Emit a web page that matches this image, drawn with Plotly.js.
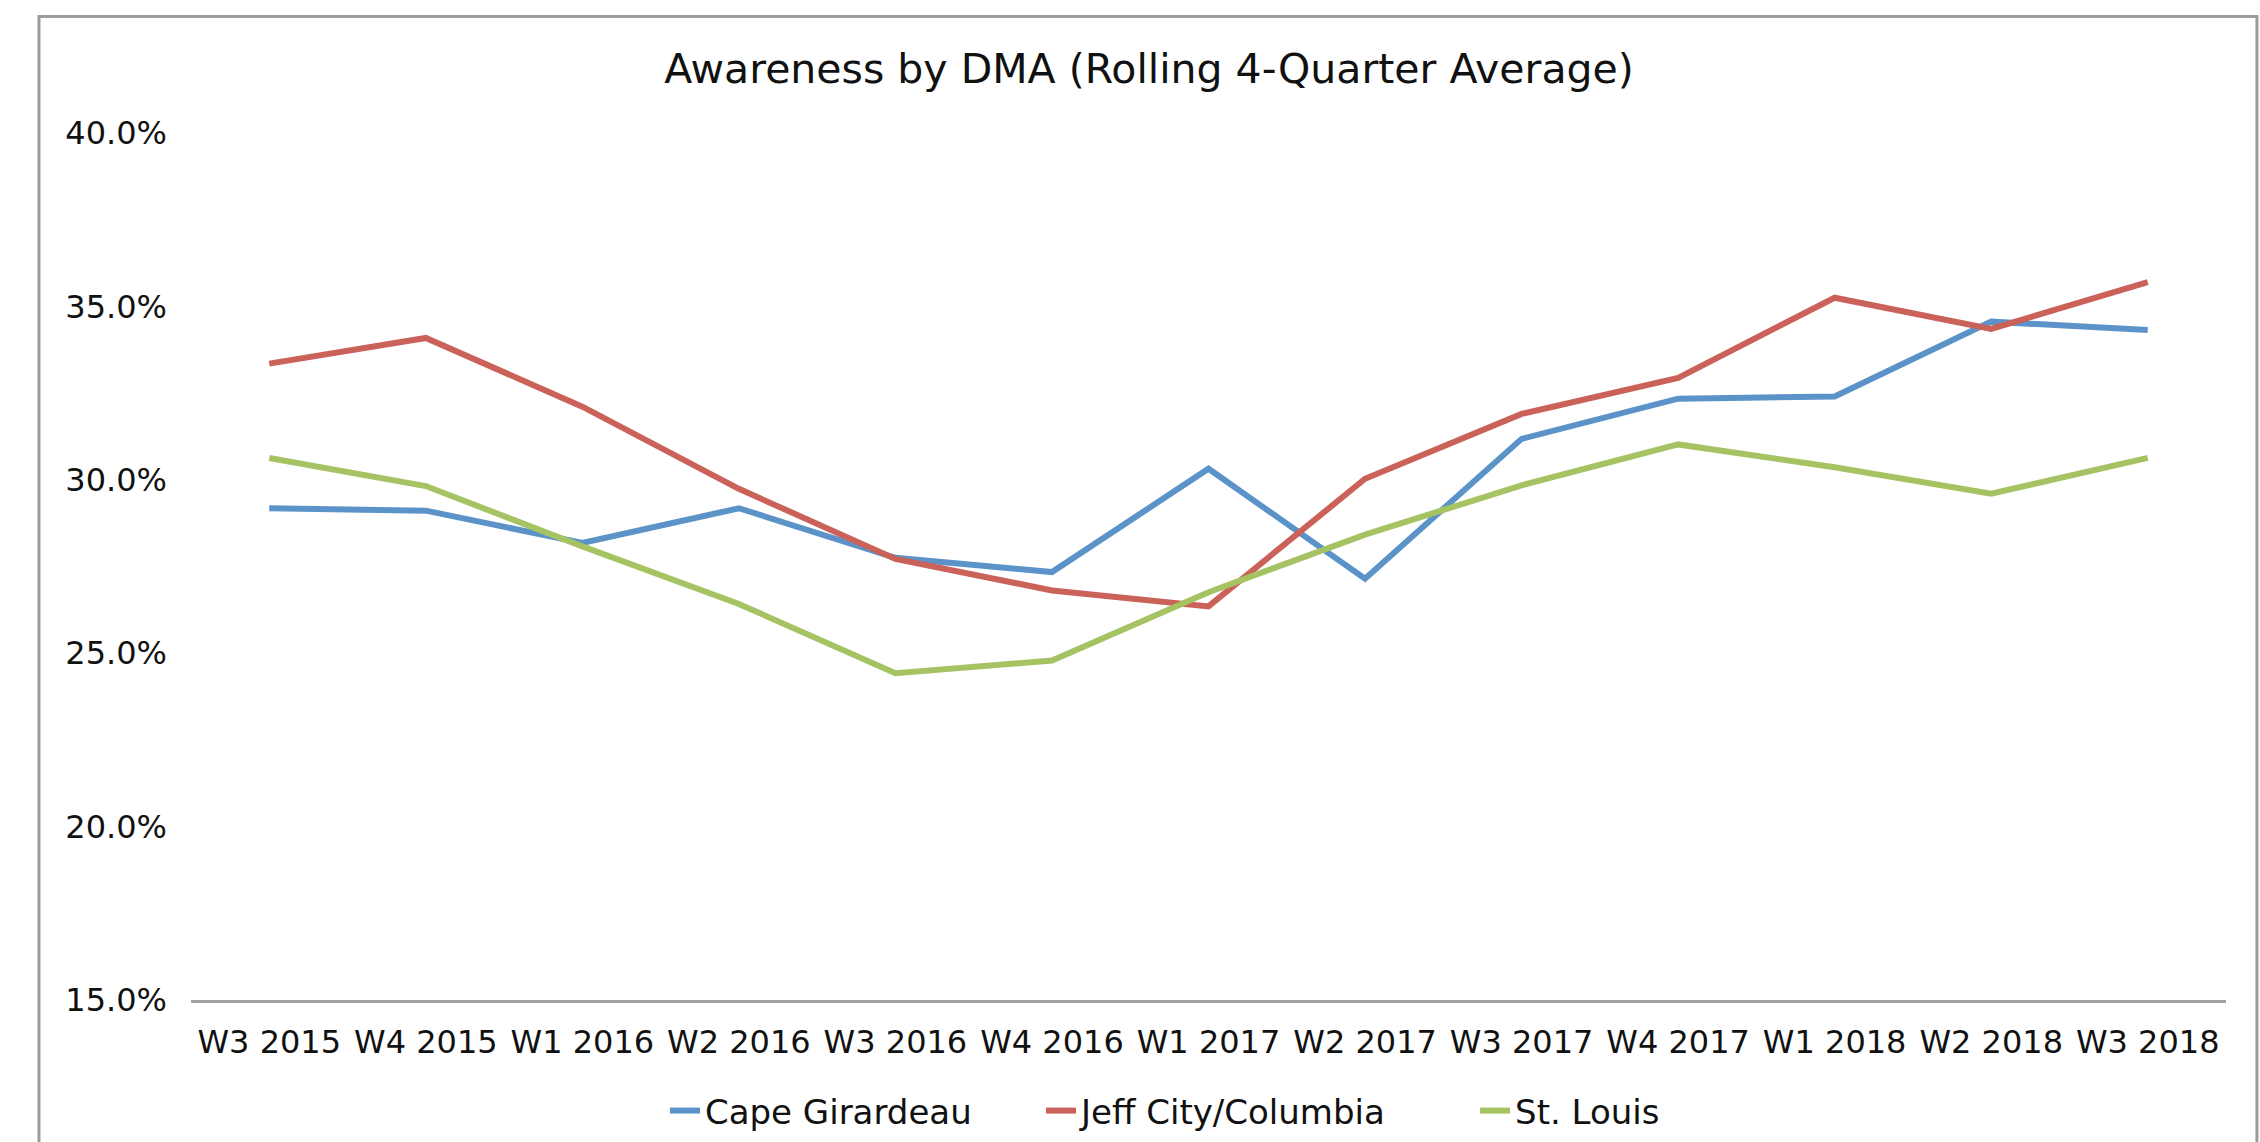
<!DOCTYPE html>
<html>
<head>
<meta charset="utf-8">
<script src="https://cdn.plot.ly/plotly-3.0.1.min.js"></script>
<style>
  html, body { margin: 0; padding: 0; background: #ffffff; }
  #chart { width: 2260px; height: 1142px; }
</style>
</head>
<body>
<div id="chart"></div>
<script>
const categories = ['W3 2015','W4 2015','W1 2016','W2 2016','W3 2016','W4 2016','W1 2017','W2 2017','W3 2017','W4 2017','W1 2018','W2 2018','W3 2018'];
const capeGirardeau = [29.18, 29.11, 28.18, 29.18, 27.75, 27.34, 30.32, 27.15, 31.18, 32.34, 32.40, 34.56, 34.32];
const jeffCityColumbia = [33.35, 34.09, 32.11, 29.74, 27.72, 26.81, 26.35, 30.03, 31.90, 32.94, 35.25, 34.35, 35.70];
const stLouis = [30.63, 29.82, 28.08, 26.42, 24.42, 24.79, 26.76, 28.42, 29.84, 31.02, 30.36, 29.60, 30.63];
const seriesNames = ['Cape Girardeau', 'Jeff City/Columbia', 'St. Louis'];
const yTickVals = [15, 20, 25, 30, 35, 40];
const yTickText = ['15.0%', '20.0%', '25.0%', '30.0%', '35.0%', '40.0%'];

const FONT = 'DejaVu Sans, sans-serif';
const colors = ['#5B93C9', '#CB625A', '#A6C364'];
const legendIds = ['legend', 'legend2', 'legend3'];

const traces = [capeGirardeau, jeffCityColumbia, stLouis].map((vals, i) => ({
  type: 'scatter',
  mode: 'lines',
  x: categories,
  y: vals,
  name: seriesNames[i],
  legend: legendIds[i],
  line: { color: colors[i], width: 6 },
  hoverinfo: 'skip'
}));

function legendAt(x) {
  return {
    orientation: 'h',
    x: x, xanchor: 'left',
    y: -0.128, yanchor: 'middle',
    font: { family: FONT, size: 34, color: '#111111' },
    bgcolor: 'rgba(0,0,0,0)',
    borderwidth: 0
  };
}

const layout = {
  width: 2260,
  height: 1142,
  paper_bgcolor: '#ffffff',
  plot_bgcolor: '#ffffff',
  margin: { l: 191, r: 34, t: 133, b: 142, pad: 0, autoexpand: false },
  font: { family: FONT, size: 32, color: '#111111' },
  title: {
    text: 'Awareness by DMA (Rolling 4-Quarter Average)',
    font: { family: FONT, size: 41, color: '#111111' },
    xref: 'container', x: 0.5084, xanchor: 'center',
    yref: 'container', y: 0.9396, yanchor: 'middle'
  },
  xaxis: {
    type: 'category',
    range: [-0.5, 12.5],
    showgrid: false,
    zeroline: false,
    showline: true,
    linecolor: '#a0a0a0',
    linewidth: 3,
    ticks: '',
    ticklabelstandoff: 12,
    tickfont: { family: FONT, size: 32, color: '#111111' },
    fixedrange: true
  },
  yaxis: {
    range: [15, 40],
    tickmode: 'array',
    tickvals: yTickVals,
    ticktext: yTickText,
    showgrid: false,
    zeroline: false,
    showline: false,
    ticks: '',
    ticklabelstandoff: 23,
    tickfont: { family: FONT, size: 32, color: '#111111' },
    fixedrange: true
  },
  showlegend: true,
  legend: legendAt(0.2329),
  legend2: legendAt(0.4177),
  legend3: legendAt(0.6310),
  shapes: [{
    type: 'rect',
    xref: 'paper', yref: 'paper',
    x0: -0.0747, x1: 1.0152,
    y0: -0.2, y1: 1.1345,
    line: { color: '#9c9c9c', width: 3 },
    fillcolor: 'rgba(0,0,0,0)',
    layer: 'below'
  }]
};

Plotly.newPlot('chart', traces, layout, { displayModeBar: false, staticPlot: true });
</script>
</body>
</html>
